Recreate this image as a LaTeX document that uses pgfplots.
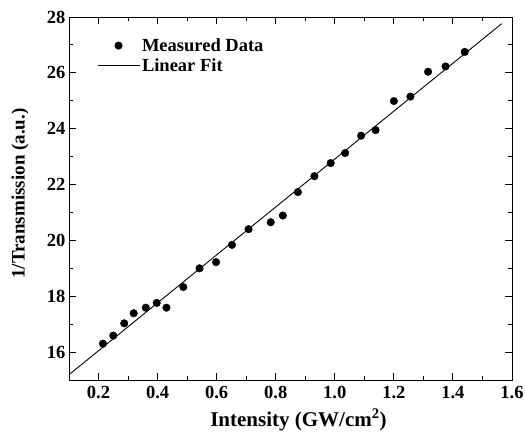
\documentclass[border=0pt]{standalone}
\usepackage{fontspec}
\setmainfont{Liberation Serif}
\usepackage{pgfplots}
\pgfplotsset{compat=1.18}
\pgfplotsset{
  dotlegend/.style={legend image code/.code={\draw[mark repeat=2,mark phase=2,##1] plot coordinates {(0pt,0pt) (21pt,0pt) (42pt,0pt)};}},
  linelegend/.style={legend image code/.code={\draw[##1] (0pt,0pt) -- (42pt,0pt);}},
}
\begin{document}
\begin{tikzpicture}
\begin{axis}[
  scale only axis,
  width=443pt, height=363pt,
  xmin=0.1, xmax=1.6, ymin=15, ymax=28,
  xtick={0.2,0.4,...,1.61}, ytick={16,18,...,28},
  minor x tick num=1, minor y tick num=1,
  tick align=inside, tick pos=both,
  major tick length=7pt, minor tick length=4pt,
  axis line style={line width=0.9pt},
  every tick/.style={line width=0.9pt, black},
  /pgf/number format/assume math mode=true,
  tick label style={font=\fontsize{18.5}{22}\selectfont\bfseries},
  xticklabel style={yshift=-3pt},
  xticklabel={\pgfmathprintnumber[fixed, fixed zerofill, precision=1]{\tick}},
  yticklabel={\pgfmathprintnumber[fixed, precision=0]{\tick}},
  xlabel={Intensity (GW/cm\textsuperscript{2})},
  ylabel={1/Transmission (a.u.)},
  xlabel style={font=\fontsize{21}{25}\selectfont\bfseries, at={(rel axis cs:0.5,0)}, anchor=base, yshift=-46pt, xshift=8pt},
  ylabel style={font=\fontsize{19}{23}\selectfont\bfseries, at={(rel axis cs:0,0.5)}, anchor=center, yshift=49pt, xshift=5pt},
  legend style={draw=none, fill=none, at={(rel axis cs:0.063,0.947)}, anchor=north west,
    inner sep=0pt, font=\fontsize{18.5}{22}\selectfont\bfseries, row sep=2pt},
  legend cell align=left,
]
\coordinate (sw) at (rel axis cs:0,0);
\coordinate (ne) at (rel axis cs:1,1);
\addplot[only marks, mark=*, mark size=3.8pt, black, dotlegend]
coordinates {
(0.215,16.30) (0.250,16.59) (0.287,17.03) (0.319,17.39) (0.360,17.59)
(0.397,17.76) (0.430,17.59) (0.487,18.33) (0.542,19.00) (0.598,19.22)
(0.652,19.84) (0.708,20.40) (0.783,20.65) (0.824,20.89) (0.875,21.73)
(0.931,22.30) (0.986,22.77) (1.035,23.13) (1.089,23.75) (1.138,23.95)
(1.200,24.99) (1.256,25.15) (1.316,26.04) (1.375,26.23) (1.440,26.75)
};
\addlegendentry{Measured Data}
\addplot[black, line width=0.9pt, linelegend]
coordinates {(0.1,15.19) (1.565,27.76)};
\addlegendentry{Linear Fit}
\end{axis}
\pgfresetboundingbox
\path ([shift={(-69pt,-54pt)}]sw) rectangle ([shift={(13pt,17pt)}]ne);
\end{tikzpicture}
\end{document}
